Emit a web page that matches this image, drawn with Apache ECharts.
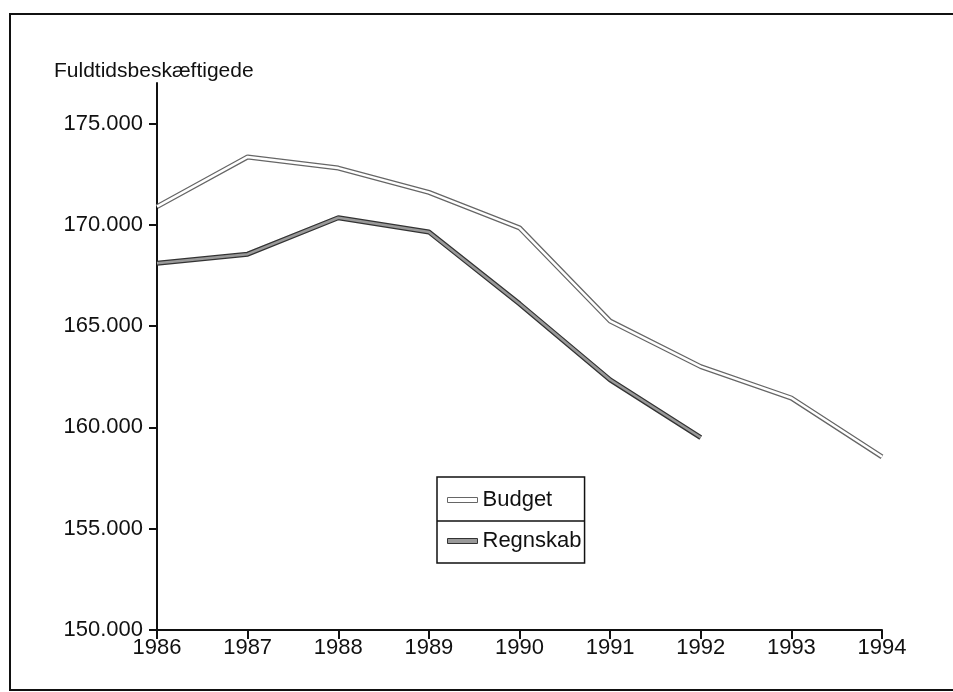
<!DOCTYPE html>
<html>
<head>
<meta charset="utf-8">
<script src="https://cdn.jsdelivr.net/npm/echarts@6/dist/echarts.min.js"></script>
<style>
  html, body { margin: 0; padding: 0; background: #fff; }
  #chart { width: 953px; height: 692px; }
</style>
</head>
<body>
<div id="chart"></div>
<script>
var years = ['1986', '1987', '1988', '1989', '1990', '1991', '1992', '1993', '1994'];
var budget = [170900, 173350, 172800, 171600, 169850, 165250, 163000, 161450, 158550];
var regnskab = [168100, 168550, 170350, 169650, 166100, 162350, 159500, null, null];

var font = 'Liberation Sans';

function fmt(v) {
    return String(v).replace(/\B(?=(\d{3})+(?!\d))/g, '.');
}

var chart = echarts.init(document.getElementById('chart'));
var option = {
    animation: false,
    textStyle: { fontFamily: font },
    graphic: [
        {   // outer frame
            type: 'rect',
            shape: { x: 10, y: 14, width: 960, height: 676 },
            style: { fill: 'none', stroke: '#111', lineWidth: 2 },
            silent: true
        },
        {   // divider in legend box
            type: 'line',
            shape: { x1: 437, y1: 521, x2: 585, y2: 521 },
            style: { stroke: '#111', lineWidth: 1.5 },
            z: 100
        }
    ],
    title: {
        text: 'Fuldtidsbeskæftigede',
        left: 49,
        top: 56,
        textStyle: { fontFamily: font, fontSize: 21, fontWeight: 'normal', color: '#111' }
    },
    legend: {
        orient: 'vertical',
        left: 437,
        top: 477,
        padding: [12, 3, 11, 10],
        itemGap: 19,
        itemWidth: 30,
        itemHeight: 5,
        icon: 'rect',
        borderColor: '#111',
        borderWidth: 1.5,
        textStyle: { fontFamily: font, fontSize: 22, color: '#111' },
        data: [
            { name: 'Budget', itemStyle: { color: '#fff', borderColor: '#666', borderWidth: 1 } },
            { name: 'Regnskab', itemStyle: { color: '#999', borderColor: '#333', borderWidth: 1 } }
        ]
    },
    grid: { left: 157, right: 71, top: 83, bottom: 62 },
    xAxis: {
        type: 'category',
        data: years,
        boundaryGap: false,
        axisLine: { lineStyle: { color: '#111', width: 2 } },
        axisTick: { show: true, length: 9, lineStyle: { color: '#111', width: 2 } },
        axisLabel: { fontFamily: font, fontSize: 22, color: '#111', margin: 7 },
        splitLine: { show: false }
    },
    yAxis: {
        type: 'value',
        min: 150000,
        max: 177000,
        interval: 5000,
        axisLine: { show: true, lineStyle: { color: '#111', width: 2 } },
        axisTick: { show: true, length: 8, lineStyle: { color: '#111', width: 2 } },
        axisLabel: {
            fontFamily: font, fontSize: 22, color: '#111', margin: 14,
            showMaxLabel: false,
            formatter: function (v) { return fmt(v); }
        },
        splitLine: { show: false }
    },
    series: [
        {
            name: 'Budget',
            type: 'line',
            data: budget,
            symbol: 'none',
            lineStyle: { color: '#666', width: 5 },
            itemStyle: { color: '#666' },
            z: 2
        },
        {
            name: 'Budget inner',
            type: 'line',
            data: budget,
            symbol: 'none',
            lineStyle: { color: '#fff', width: 2.5 },
            z: 3
        },
        {
            name: 'Regnskab',
            type: 'line',
            data: regnskab,
            symbol: 'none',
            lineStyle: { color: '#333', width: 5 },
            itemStyle: { color: '#333' },
            z: 2
        },
        {
            name: 'Regnskab inner',
            type: 'line',
            data: regnskab,
            symbol: 'none',
            lineStyle: { color: '#999', width: 2.5 },
            z: 3
        }
    ]
};
chart.setOption(option);
</script>
</body>
</html>
